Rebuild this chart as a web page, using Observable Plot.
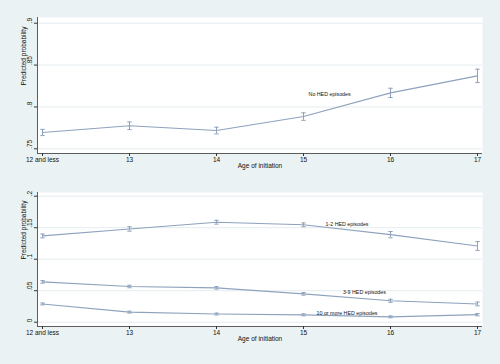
<!DOCTYPE html>
<html>
<head>
<meta charset="utf-8">
<script src="https://cdn.jsdelivr.net/npm/d3@7"></script>
<script src="https://cdn.jsdelivr.net/npm/@observablehq/plot@0.6"></script>
<style>
  html, body { margin: 0; padding: 0; background: #eaf2f3; }
  #chart { width: 500px; height: 364px; background: #eaf2f3; overflow: hidden; }
  #chart svg { display: block; background: transparent; }
</style>
</head>
<body>
<div id="chart"></div>
<script>
// ---- data ----
const ages = [12, 13, 14, 15, 16, 17];
const ageLabels = ["12 and less", "13", "14", "15", "16", "17"];

const noHed    = [0.7695, 0.7775, 0.7718, 0.7885, 0.8168, 0.8371];
const noHedErr = [0.0037, 0.0045, 0.0040, 0.0045, 0.0055, 0.0080];

const hed12    = [0.137, 0.148, 0.1587, 0.1546, 0.139, 0.121];
const hed12Err = [0.003, 0.0035, 0.003, 0.003, 0.005, 0.007];

const hed39    = [0.064, 0.0567, 0.0545, 0.045, 0.034, 0.029];
const hed39Err = [0.002, 0.002, 0.002, 0.002, 0.0025, 0.003];

const hed10    = [0.029, 0.016, 0.013, 0.0117, 0.0085, 0.012];
const hed10Err = [0.0015, 0.0015, 0.0015, 0.0015, 0.0015, 0.0018];

const topYTicks = [0.75, 0.8, 0.85, 0.9];
const topYLabels = [".75", ".8", ".85", ".9"];
const botYTicks = [0, 0.05, 0.1, 0.15, 0.2];
const botYLabels = ["0", ".05", ".1", ".15", ".2"];

const topNames = ["No HED episodes"];
const topLabelX = [15.30];
const topLabelY = [0.8148];

const botNames = ["1-2 HED episodes", "3-9 HED episodes", "10 or more HED episodes"];
const botLabelX = [15.50, 15.70, 15.50];
const botLabelY = [0.1556, 0.0467, 0.0138];

// ---- build ----
const lineColor = "#8ea2bd";
const axisColor = "#333";
const font = "'Liberation Sans', Arial, sans-serif";
const xDomain = [11.9425, 17.0575];

const cap = {
  draw(context, size) {
    const r = Math.sqrt(size / Math.PI);
    context.moveTo(-r, 0);
    context.lineTo(r, 0);
  }
};

function rows(name, vals, errs) {
  return ages.map((a, i) => ({series: name, age: a, p: vals[i], lo: vals[i] - errs[i], hi: vals[i] + errs[i]}));
}

function panel({height, marginTop, marginBottom, yDomain, yTicks, yLabels, data, labels}) {
  return Plot.plot({
    width: 500,
    height,
    marginLeft: 37,
    marginRight: 18,
    marginTop,
    marginBottom,
    style: {fontFamily: font, background: "transparent", color: "#111"},
    x: {domain: xDomain},
    y: {domain: yDomain},
    marks: [
      Plot.frame({fill: "white", stroke: "none"}),
      Plot.gridY({ticks: yTicks, stroke: "#e4edf0", strokeOpacity: 1, strokeWidth: 1}),
      Plot.ruleX([xDomain[0]], {stroke: axisColor, strokeWidth: 0.8}),
      Plot.ruleY([yDomain[0]], {stroke: axisColor, strokeWidth: 0.8}),
      Plot.axisY({ticks: yTicks, tickSize: 3, tickFormat: () => "", label: null, stroke: axisColor}),
      Plot.text(yTicks, {y: d => d, text: (d, i) => yLabels[i], frameAnchor: "left", dx: -7.5, rotate: -90, fontSize: 6.5}),
      Plot.text(["Predicted probability"], {frameAnchor: "left", dx: -14, rotate: -90, fontSize: 6.5}),
      Plot.axisX({ticks: ages, tickFormat: d => ageLabels[ages.indexOf(d)], tickSize: 3, tickPadding: 1, fontSize: 6.5, label: null, stroke: axisColor}),
      Plot.text(["Age of initiation"], {frameAnchor: "bottom", dy: 14.5, fontSize: 6.5}),
      Plot.line(data, {x: "age", y: "p", z: "series", stroke: lineColor, strokeWidth: 1.1}),
      Plot.ruleX(data, {x: "age", y1: "lo", y2: "hi", stroke: lineColor, strokeWidth: 1}),
      Plot.dot(data, {x: "age", y: "lo", symbol: cap, r: 2.2, stroke: lineColor, strokeWidth: 1}),
      Plot.dot(data, {x: "age", y: "hi", symbol: cap, r: 2.2, stroke: lineColor, strokeWidth: 1}),
      Plot.text(labels, {x: "x", y: "y", text: "name", fontSize: 5.3})
    ]
  });
}

const topData = rows(topNames[0], noHed, noHedErr);
const botData = [
  ...rows(botNames[0], hed12, hed12Err),
  ...rows(botNames[1], hed39, hed39Err),
  ...rows(botNames[2], hed10, hed10Err)
];
const topLabels = topNames.map((n, i) => ({name: n, x: topLabelX[i], y: topLabelY[i]}));
const botLabels = botNames.map((n, i) => ({name: n, x: botLabelX[i], y: botLabelY[i]}));

const chart = document.getElementById("chart");
chart.appendChild(panel({
  height: 180, marginTop: 17, marginBottom: 27,
  yDomain: [0.7444, 0.9068], yTicks: topYTicks, yLabels: topYLabels,
  data: topData, labels: topLabels
}));
chart.appendChild(panel({
  height: 184, marginTop: 12, marginBottom: 38,
  yDomain: [-0.0068, 0.2059], yTicks: botYTicks, yLabels: botYLabels,
  data: botData, labels: botLabels
}));
</script>
</body>
</html>
